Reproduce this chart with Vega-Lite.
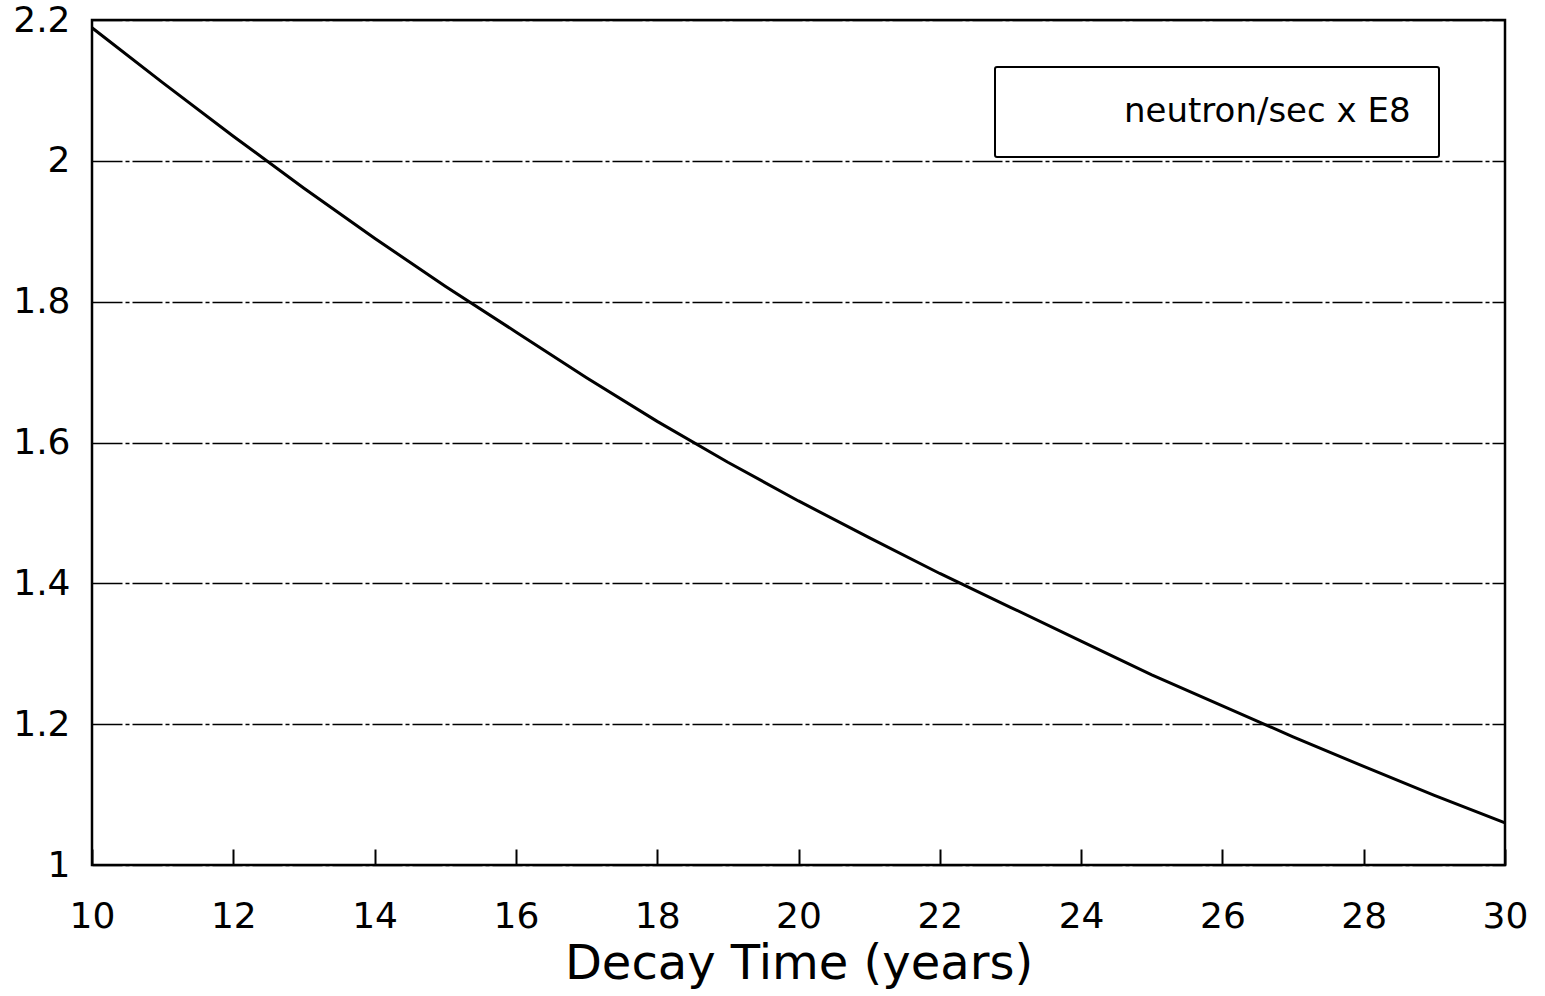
{
  "$schema": "https://vega.github.io/schema/vega-lite/v6.json",
  "width": 1413,
  "height": 845,
  "autosize": {"type": "none"},
  "padding": {"left": 92, "top": 20, "right": 40, "bottom": 131},
  "background": "white",
  "config": {
    "view": {"stroke": "black", "strokeWidth": 2.5},
    "axis": {"domain": false, "labelColor": "black", "labelFont": "DejaVu Sans", "labelFontSize": 36, "titleColor": "black"},
    "legend": {"strokeWidth": 2}
  },
  "data": {
    "values": [
      {"year": 10, "rate": 2.189},
      {"year": 11, "rate": 2.111},
      {"year": 12, "rate": 2.035},
      {"year": 13, "rate": 1.961},
      {"year": 14, "rate": 1.890},
      {"year": 15, "rate": 1.822},
      {"year": 16, "rate": 1.757},
      {"year": 17, "rate": 1.692},
      {"year": 18, "rate": 1.630},
      {"year": 19, "rate": 1.572},
      {"year": 20, "rate": 1.517},
      {"year": 21, "rate": 1.465},
      {"year": 22, "rate": 1.414},
      {"year": 23, "rate": 1.366},
      {"year": 24, "rate": 1.318},
      {"year": 25, "rate": 1.270},
      {"year": 26, "rate": 1.226},
      {"year": 27, "rate": 1.182},
      {"year": 28, "rate": 1.140},
      {"year": 29, "rate": 1.099},
      {"year": 30, "rate": 1.060}
    ]
  },
  "mark": {"type": "line", "strokeWidth": 3, "clip": true},
  "encoding": {
    "x": {
      "field": "year",
      "type": "quantitative",
      "scale": {"domain": [10, 30], "nice": false, "zero": false},
      "axis": {
        "title": "Decay Time (years)",
        "titleFont": "DejaVu Sans",
        "titleFontSize": 48,
        "titleFontWeight": "normal",
        "titlePadding": 6,
        "values": [10, 12, 14, 16, 18, 20, 22, 24, 26, 28, 30],
        "format": "d",
        "grid": false,
        "ticks": true,
        "tickSize": -16,
        "tickWidth": 2,
        "tickColor": "black",
        "labelPadding": 50,
        "labelFlush": false,
        "labelOverlap": false
      }
    },
    "y": {
      "field": "rate",
      "type": "quantitative",
      "scale": {"domain": [1, 2.2], "nice": false, "zero": false},
      "axis": {
        "title": null,
        "values": [1, 1.2, 1.4, 1.6, 1.8, 2, 2.2],
        "format": ".2~f",
        "ticks": false,
        "labelPadding": 22,
        "labelFlush": false,
        "labelOverlap": false,
        "grid": true,
        "gridColor": "black",
        "gridWidth": 1.5,
        "gridOpacity": 1,
        "gridDash": [30, 3, 4, 3]
      }
    },
    "stroke": {
      "datum": "neutron/sec x E8",
      "scale": {"range": ["black"]},
      "legend": {
        "title": null,
        "orient": "none",
        "legendX": 903,
        "legendY": 47,
        "padding": 28,
        "symbolSize": 1,
        "symbolOpacity": 0,
        "symbolStrokeWidth": 0,
        "labelOffset": 67,
        "labelFont": "DejaVu Sans",
        "labelFontSize": 34,
        "labelColor": "black",
        "labelLimit": 500,
        "strokeColor": "black",
        "fillColor": "white",
        "cornerRadius": 2
      }
    }
  }
}
